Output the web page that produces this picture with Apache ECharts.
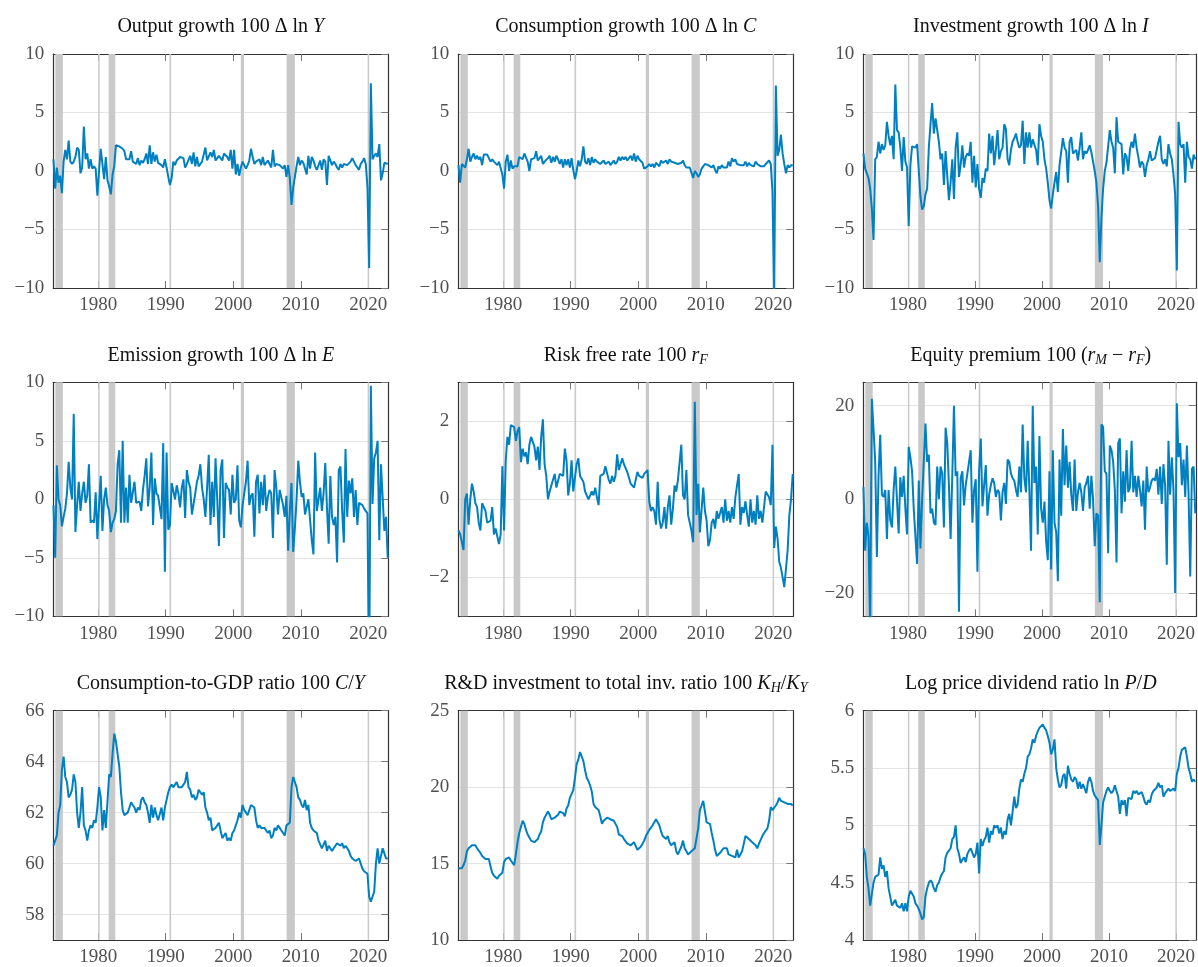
<!DOCTYPE html>
<html><head><meta charset="utf-8">
<script src="https://cdn.jsdelivr.net/npm/echarts@6/dist/echarts.min.js"></script>
<style>html,body{margin:0;padding:0;background:#fff}#c{width:1198px;height:967px}</style>
</head><body><div id="c"></div>
<script>
// ---- Data (quarterly, first observation = 1973Q3) ----
const startDate = 1973.375;   // position of first quarter on the time axis
const quarterStep = 0.25;
const yearTicks = [1980, 1990, 2000, 2010, 2020];
const recessions = [[1973.65,1974.76],[1980.0,1980.22],[1981.55,1982.53],[1990.56,1990.8],[2001.12,2001.6],[2007.9,2009.12],[2019.9,2020.12]];

const outputGrowth = [
1.0,-1.5,0.3,-1.0,-0.4,-1.9,0.8,1.8,1.0,2.6,
0.8,0.6,0.8,1.2,2.0,1.8,-0.2,0.3,3.8,1.0,
1.5,0.2,1.0,0.2,0.4,0.2,-2.1,0.0,1.9,2.0,
-0.7,1.2,-0.8,-1.3,-2.0,-0.3,0.4,2.2,2.1,2.1,
2.0,1.9,1.7,1.0,0.9,1.0,1.7,0.8,0.9,0.6,
1.1,0.5,0.9,0.7,1.0,1.5,0.6,2.2,0.6,1.6,
0.8,1.4,0.7,0.8,0.5,0.3,1.0,0.3,-0.5,-1.2,
-0.6,0.8,0.5,0.9,0.8,1.2,1.1,1.1,0.3,0.6,
0.5,1.3,0.6,1.6,0.4,1.2,0.4,0.3,0.8,0.7,
2.0,0.9,1.0,1.6,1.2,1.8,0.9,1.1,1.3,1.4,
0.9,1.5,1.6,1.2,0.9,1.8,0.2,1.8,-0.3,0.6,
-0.4,0.3,0.8,0.5,0.2,0.5,0.9,1.9,1.2,0.6,
0.8,0.8,1.0,0.5,1.2,0.5,0.4,0.9,1.0,0.3,
1.8,0.4,0.6,0.5,0.5,0.6,0.2,0.5,-0.5,0.5,
-0.6,-2.9,-1.4,-0.5,0.4,1.2,0.5,0.9,0.7,0.6,
-0.3,1.3,0.2,1.2,0.9,0.4,0.1,0.2,0.9,0.1,
1.0,0.8,-1.2,1.3,1.2,0.5,0.8,0.6,0.3,0.1,
0.6,0.3,0.6,0.5,0.5,0.6,0.8,1.1,0.8,0.5,
0.6,0.1,0.6,0.8,1.1,0.6,-1.4,-8.3,7.5,1.0,
1.3,1.5,1.2,2.3,-0.8,-0.2,0.7,0.6,0.6];

const consumptionGrowth = [
0.5,-1.0,0.6,0.5,0.3,1.0,1.9,0.8,1.2,1.5,
1.0,1.3,1.0,1.2,0.5,1.4,1.4,1.4,1.3,0.8,
1.0,0.8,0.9,0.5,0.8,0.9,-0.3,-1.5,0.8,1.4,
0.0,0.9,0.2,0.4,0.5,0.4,1.2,1.3,1.0,1.5,
1.4,0.8,0.0,1.0,0.9,1.1,1.7,0.9,1.0,1.3,
0.6,0.8,0.7,1.1,1.3,0.7,1.2,0.8,1.3,1.0,
0.6,1.0,0.3,1.0,0.5,1.0,0.3,1.1,0.1,-0.7,
0.0,0.9,0.4,1.0,2.1,0.8,0.6,1.1,0.5,1.2,
0.7,1.0,0.8,0.7,0.6,0.7,0.9,0.6,0.7,0.8,
0.5,0.7,0.9,0.6,0.8,1.2,0.9,1.2,1.0,1.2,
0.9,1.0,1.3,0.9,1.5,0.8,1.3,1.0,0.9,0.7,
0.2,0.2,0.4,0.6,0.4,0.6,0.3,0.7,0.6,0.4,
0.9,0.7,0.6,0.9,0.6,1.0,0.8,0.7,0.7,0.7,
0.6,0.5,0.7,0.9,0.5,0.3,0.4,0.3,0.3,-0.6,
0.0,-0.2,-0.5,-0.3,0.2,0.4,0.6,0.7,0.5,0.4,
0.3,0.5,0.1,-0.2,0.4,0.2,0.5,0.3,0.4,0.3,
0.8,0.4,1.1,0.8,1.0,0.6,0.7,0.5,0.6,0.5,
0.8,0.4,0.7,0.5,0.6,0.4,0.8,0.6,0.6,0.4,
0.5,0.4,0.6,0.7,0.9,0.6,-1.8,-10.8,7.3,1.3,
1.8,3.1,1.5,0.6,-0.2,0.5,0.3,0.5,0.5];

const investmentGrowth = [
1.5,0.2,
-0.2,-0.6,-1.5,-3.2,  -5.9,1.0,1.2,2.5,  1.5,2.3,1.8,2.2,  4.2,3.0,2.2,3.0,  1.0,7.4,3.5,3.3,
2.0,0.0,2.9,0.8,  0.3,-4.7,0.5,2.1,  2.0,2.0,2.3,2.3,  -2.2,-3.3,-3.0,-2.0,  -1.5,2.0,4.0,5.8,
3.2,4.5,4.5,2.5,  1.0,1.5,-1.2,1.7,  1.8,-2.5,-1.0,1.0,  -2.4,2.0,3.3,-0.5,  0.5,2.2,0.3,1.2,
1.5,1.3,2.5,-1.0,  1.3,-1.4,0.6,-1.5,  -2.3,-0.6,-1.0,0.2,  0.0,3.2,1.5,3.0,  0.5,1.8,3.5,1.0,
1.7,2.0,4.0,3.6,  1.0,0.5,1.8,2.5,  2.8,3.2,2.5,2.0,  2.2,4.3,0.6,3.3,  2.0,3.3,2.0,2.7,
2.8,1.8,0.5,4.0,  3.0,2.5,1.0,0.2,  -1.0,-2.5,-3.2,-2.0,  -1.0,-0.1,-1.8,0.5,  0.5,2.8,2.0,1.7,
-1.0,2.5,2.9,1.5,  1.5,1.8,0.9,2.0,  3.3,1.0,1.7,1.5,  1.8,2.2,1.6,1.5,  0.0,-1.0,-3.0,-7.8,
-4.0,-1.5,0.0,0.7,  0.7,3.5,2.5,2.0,  -0.2,4.6,2.5,2.5,  2.3,-0.3,1.5,1.2,  0.0,1.8,2.5,2.0,
3.2,2.0,1.2,0.3,  0.8,0.6,-0.5,0.5,  1.0,1.7,0.9,1.0,  1.1,1.0,2.5,3.0,  1.0,0.6,1.0,0.4,
2.3,1.5,1.0,-0.3,  -2.0,-8.5,4.2,2.3,  2.0,2.3,-1.0,2.5,  1.2,1.0,0.2,1.4,
1.0];

const emissionGrowth = [
-0.5,-5.0,2.9,0.0,-0.5,-2.3,-1.5,-0.8,0.5,3.2,
1.0,0.0,7.3,-2.8,-0.5,1.5,-1.0,0.5,1.5,-0.3,
0.3,3.0,-2.0,-1.8,-2.0,0.6,-3.4,-0.5,2.0,-2.7,
0.0,1.0,-0.5,-1.0,-2.8,-2.0,-1.7,-1.0,3.0,4.2,
-2.0,5.0,-2.0,1.0,-2.0,2.1,-0.3,-0.3,1.5,-0.3,
-0.4,-0.2,-1.0,0.8,2.0,3.5,-0.6,1.0,4.0,-2.2,
1.8,0.5,0.3,0.2,-1.7,4.8,-6.2,4.0,-2.6,-2.2,
1.4,1.5,0.0,1.2,0.5,-0.7,1.0,1.7,-1.6,2.5,
1.5,1.0,-1.3,-1.4,0.5,1.5,2.0,3.0,1.0,0.0,
-1.5,1.0,3.8,-2.2,1.5,-1.5,3.5,0.0,-4.0,2.5,
3.4,-3.3,1.4,1.0,0.8,-1.3,2.1,-0.3,0.0,2.9,
-1.8,-2.4,-0.5,0.5,1.5,3.3,-0.5,0.3,0.5,-3.2,
1.5,2.1,-1.2,1.5,-0.5,2.1,-1.0,0.2,0.8,0.5,
-3.3,2.5,1.0,-1.3,0.8,0.9,-0.5,-1.5,0.3,-4.4,
-1.0,1.4,-4.5,-2.5,0.0,3.3,1.5,0.2,0.5,-1.3,
-1.2,0.0,0.0,-3.5,-4.7,4.0,-1.0,0.0,1.0,-1.0,
0.5,3.1,-0.7,-3.8,2.0,-1.5,-2.2,-1.5,-5.4,2.5,
2.8,-1.0,-3.7,4.3,-1.5,1.6,0.5,1.8,-1.5,0.8,
-2.2,-0.3,-0.3,-0.5,-0.8,-0.8,-1.2,-16.0,9.7,-0.4,
3.5,4.0,5.0,-3.5,3.0,2.9,-2.7,-1.5,-5.0];

const riskFreeRate = [
-0.8,-0.9,-0.85,-1.3,0.0,0.15,-0.65,0.0,0.4,0.2,
-0.1,-0.2,-0.6,-0.8,-0.1,-0.05,-0.3,-0.6,-0.6,-0.55,
-0.2,-0.9,-0.75,-0.8,-1.15,-0.9,0.85,-0.8,1.0,1.6,
1.4,1.9,1.95,1.85,1.5,1.75,1.85,0.95,1.3,1.1,
1.2,0.9,1.4,1.6,1.65,1.35,1.0,1.35,0.75,1.6,
2.05,0.9,0.6,0.0,0.2,0.35,0.5,0.65,0.3,0.25,
0.65,0.7,0.6,1.3,1.0,0.1,0.4,1.0,0.2,0.25,
0.9,1.05,0.6,0.6,0.45,0.2,0.1,0.0,-0.05,0.2,
0.1,0.3,0.05,-0.15,0.6,0.6,0.65,0.85,0.8,0.5,
0.4,0.6,0.45,0.6,1.15,0.75,0.9,1.05,0.9,0.8,
0.7,0.7,0.4,0.4,0.3,0.3,0.7,0.6,0.65,0.55,
0.65,0.7,0.75,-0.05,-0.3,-0.2,-0.3,-0.65,0.45,-0.5,
-0.75,-0.6,-0.2,-0.75,-0.2,0.1,-0.65,-0.25,0.35,0.2,
0.5,0.45,1.4,0.1,0.0,0.75,-0.4,-0.35,-0.8,-1.1,
2.5,-0.4,0.4,-0.85,-0.85,0.3,-0.3,-0.55,-1.2,-1.05,
-0.6,-0.5,-0.75,-0.3,-0.5,-0.45,-0.2,-0.6,0.0,-0.55,
-0.3,-0.6,-0.2,-0.5,0.05,0.0,0.65,-0.65,-0.2,-0.35,
-0.05,-0.4,-0.7,0.0,-0.6,-0.3,-0.65,0.1,-0.5,-0.3,
-0.6,-0.2,0.2,0.2,0.05,-0.15,1.4,-1.25,-0.7,-1.0,
-1.6,-1.75,-2.0,-2.25,-2.2,-1.3,-0.4,0.0,0.65];

const equityPremium = [
2.6,-11,-5,-8,-28,21.5,15,8,-12.3,5,
13.8,1.0,0.5,2.0,-8.5,2.0,-4.5,-6,2.0,7.0,
7.0,-7.3,4.7,0.5,5.0,-2.0,-7.5,11.2,9.0,6.0,
-2.0,-8.0,-13.8,4.0,-10.5,0.0,8.0,16.2,8.0,9.5,
-3.0,-2.0,-5.0,-5.5,7.0,0.0,7.0,5.5,-6.0,15.3,
12.0,3.0,-8.5,5.0,20.0,5.0,6.0,-24.0,4.5,6.0,
-1.3,3.0,5.5,8.0,10.5,-5.0,2.0,4.3,-15.5,6.0,
13.0,-1.5,3.0,7.3,-3.5,1.0,3.0,4.5,3.5,0.5,
2.0,1.5,-4.5,1.5,3.5,-1.0,8.5,8.0,5.5,4.5,
4.0,2.0,0.5,7.0,1.5,16.0,4.5,1.5,12.5,2.0,
-11.0,20.0,3.5,7.0,-7.5,13.5,-2.0,-5.0,-0.5,-9.0,
-13.0,6.0,-15.0,10.5,-5.0,-7.0,-17.5,8.5,-3.5,15.0,
3.0,11.5,2.5,8.0,1.0,-2.5,8.5,-2.5,1.5,3.5,
1.5,-2.5,2.5,3.5,5.0,-2.0,5.0,0.0,-10.0,-3.0,
-3.5,-22.0,16.0,15.5,6.0,5.5,-11.5,11.5,10.5,8.0,
2.0,-13.5,12.0,13.0,-3.0,6.0,-0.5,10.5,1.5,2.5,
12.5,1.5,5.0,0.5,5.0,2.0,-1.5,4.0,-6.5,7.0,
1.5,2.5,4.0,4.5,4.0,6.5,1.0,7.0,-1.0,7.5,
3.0,-14.0,12.5,1.0,9.0,2.0,-20.0,20.5,9.0,12.0,
3.0,8.5,0.5,11.5,1.0,-16.5,6.5,7.0,-3.0];

const consumptionToGdp = [
60.7,60.9,61.1,62.0,62.3,63.7,64.2,63.4,63.2,62.6,
62.7,62.9,63.5,63.2,62.0,61.4,62.0,63.0,61.5,61.3,
60.9,61.3,61.5,61.4,61.7,61.6,62.2,63.0,62.6,61.3,
62.1,61.4,61.4,63.5,63.4,64.3,65.1,64.8,64.3,63.8,
62.8,62.1,61.9,61.9,62.0,62.2,62.4,62.3,62.2,62.0,
62.2,62.1,62.5,62.6,62.4,62.3,62.0,61.6,62.3,61.8,
62.2,61.9,61.7,61.7,62.2,61.7,62.2,62.5,62.8,63.0,
63.1,63.0,63.1,63.2,63.0,63.0,63.0,63.1,63.2,63.6,
63.0,62.9,62.6,62.7,62.5,62.6,62.9,62.8,62.7,62.8,
62.2,62.0,61.7,61.8,61.3,61.3,61.4,61.4,61.6,61.3,
61.0,61.1,61.2,60.9,61.0,60.9,61.2,61.3,61.5,61.7,
62.0,61.8,62.3,62.1,62.0,61.9,61.9,62.3,62.3,62.2,
61.7,61.4,61.5,61.4,61.4,61.4,61.3,61.2,61.3,61.0,
61.1,61.4,61.3,61.5,61.4,61.3,61.2,61.1,61.5,61.5,
61.6,63.0,63.4,63.2,63.0,62.6,62.5,62.3,62.2,62.5,
62.1,62.3,61.6,61.4,61.3,61.3,61.2,60.9,60.9,60.6,
60.6,60.9,60.5,60.7,60.6,60.5,60.6,60.7,60.8,60.8,
60.7,60.8,60.6,60.7,60.6,60.5,60.3,60.2,60.2,60.1,
60.1,60.2,60.0,59.8,59.7,59.7,59.6,58.7,58.5,58.7,
58.9,60.0,60.6,60.0,60.0,60.6,60.4,60.2,60.2];

const rdInvestmentRatio = [
14.7,14.65,14.7,14.9,15.2,15.8,16.0,16.1,16.2,16.3,
16.2,16.0,15.9,15.7,15.5,15.4,15.3,15.2,15.3,14.8,
14.4,14.2,14.1,14.0,14.2,14.1,14.4,15.1,15.3,15.4,
15.4,15.2,15.2,14.9,15.6,16.4,17.0,17.4,17.8,17.6,
17.2,16.9,16.7,16.5,16.4,16.4,16.5,16.6,16.9,17.1,
17.7,18.0,18.0,18.4,18.2,17.9,18.0,18.0,18.0,18.2,
18.4,18.4,18.3,18.1,18.6,18.8,19.3,19.4,19.8,20.6,
21.5,21.8,22.3,22.3,21.7,21.1,20.6,20.4,20.1,19.7,
18.9,18.7,18.6,18.5,18.1,17.6,17.8,17.9,18.0,18.0,
17.9,17.8,17.8,17.7,17.4,16.9,16.8,16.8,16.6,16.7,
16.3,16.2,16.2,16.3,16.4,16.3,15.9,16.0,16.1,16.2,
16.5,16.8,17.0,17.2,17.3,17.5,17.5,17.9,18.0,17.5,
17.1,16.8,16.9,16.6,16.8,16.4,16.2,16.3,16.4,15.8,
15.6,15.7,16.1,16.5,16.0,15.8,15.6,15.6,15.8,15.9,
16.0,16.1,17.3,18.5,18.8,19.1,18.4,17.7,17.6,17.6,
17.0,16.5,15.9,15.5,15.6,15.7,15.8,16.0,16.1,16.0,
15.6,15.5,15.5,15.5,15.4,15.9,15.4,15.5,15.8,16.3,
16.8,16.7,16.6,16.7,16.4,16.4,16.2,16.0,16.3,16.4,
16.8,17.0,17.1,17.3,17.8,18.7,18.5,18.6,18.8,19.0,
19.3,19.1,19.1,19.0,19.0,18.9,19.0,18.9,18.8];

const logPriceDividend = [
4.8,4.75,4.55,4.45,4.3,4.3,4.5,4.55,4.56,4.57,
4.72,4.62,4.65,4.55,4.6,4.45,4.45,4.3,4.3,4.35,
4.3,4.3,4.28,4.32,4.25,4.32,4.25,4.38,4.43,4.42,
4.38,4.32,4.3,4.27,4.23,4.18,4.2,4.38,4.45,4.5,
4.52,4.5,4.45,4.42,4.48,4.5,4.55,4.58,4.6,4.72,
4.76,4.78,4.8,4.88,4.9,5.0,4.8,4.75,4.67,4.7,
4.72,4.68,4.75,4.78,4.8,4.8,4.72,4.75,4.85,4.58,
4.88,4.82,4.87,4.9,4.98,4.85,4.95,4.92,5.0,4.98,
5.0,4.93,4.98,4.88,4.95,4.92,5.05,5.1,5.0,5.12,
5.25,5.15,5.18,5.32,5.4,5.38,5.45,5.5,5.6,5.62,
5.67,5.75,5.72,5.78,5.82,5.85,5.86,5.88,5.85,5.83,
5.78,5.72,5.62,5.66,5.75,5.5,5.4,5.33,5.35,5.43,
5.45,5.32,5.52,5.45,5.4,5.38,5.42,5.4,5.32,5.38,
5.32,5.36,5.37,5.28,5.38,5.42,5.38,5.3,5.26,5.25,
5.22,4.83,5.0,5.2,5.25,5.3,5.33,5.3,5.28,5.3,
5.35,5.3,5.25,5.1,5.22,5.18,5.22,5.08,5.24,5.25,
5.23,5.3,5.28,5.3,5.27,5.28,5.29,5.25,5.2,5.18,
5.22,5.2,5.27,5.3,5.3,5.33,5.37,5.33,5.35,5.25,
5.28,5.3,5.32,5.3,5.31,5.32,5.3,5.45,5.5,5.6,
5.66,5.66,5.68,5.6,5.5,5.45,5.38,5.4,5.38];

const panels = [
  {title:'Output growth 100 Δ ln {i|Y}', data: outputGrowth, min:-10, max:10, ticks:[-10,-5,0,5,10]},
  {title:'Consumption growth 100 Δ ln {i|C}', data: consumptionGrowth, min:-10, max:10, ticks:[-10,-5,0,5,10]},
  {title:'Investment growth 100 Δ ln {i|I}', data: investmentGrowth, min:-10, max:10, ticks:[-10,-5,0,5,10]},
  {title:'Emission growth 100 Δ ln {i|E}', data: emissionGrowth, min:-10, max:10, ticks:[-10,-5,0,5,10]},
  {title:'Risk free rate 100 {i|r}{sub|F}', data: riskFreeRate, min:-3, max:3, ticks:[-2,0,2]},
  {title:'Equity premium 100 ({i|r}{sub|M} − {i|r}{sub|F})', data: equityPremium, min:-25, max:25, ticks:[-20,0,20]},
  {title:'Consumption-to-GDP ratio 100 {i|C}/{i|Y}', data: consumptionToGdp, min:57, max:66, ticks:[58,60,62,64,66]},
  {title:'R&D investment to total inv. ratio 100 {i|K}{sub|H}/{i|K}{sub|Y}', data: rdInvestmentRatio, min:10, max:25, ticks:[10,15,20,25]},
  {title:'Log price dividend ratio ln {i|P}/{i|D}', data: logPriceDividend, min:4, max:6, ticks:[4,4.5,5,5.5,6]}
];

// ---- Layout / style ----
const FONT = 'Liberation Serif';
const LINE = '#0080c0';
const colLeft = [53.3, 458.3, 863.3], rowTop = [54, 382.3, 710.7];
const gw = 335, gh = 234;
const xMin = 1973.35, xMax = 2022.96;
const fmt = v => (v < 0 ? '\u2212' + Math.abs(v) : String(v));

const grid = [], xAxis = [], yAxis = [], series = [], graphic = [];
const frame = {show:true, onZero:false, lineStyle:{color:'#333', width:1.2}};
panels.forEach((p, k) => {
  const r = Math.floor(k / 3), c = k % 3;
  grid.push({left: colLeft[c], top: rowTop[r], width: gw, height: gh});
  xAxis.push({gridIndex:k, type:'value', min:xMin, max:xMax, position:'bottom', axisLine:frame,
    axisTick:{show:true, inside:true, length:7, customValues:yearTicks, lineStyle:{color:'#777', width:1}},
    axisLabel:{customValues:yearTicks, margin:8, color:'#505050', fontFamily:FONT, fontSize:19, formatter:v=>String(v)},
    splitLine:{show:false}});
  xAxis.push({gridIndex:k, type:'value', min:xMin, max:xMax, position:'top', axisLine:frame,
    axisTick:{show:true, inside:true, length:7, customValues:yearTicks, lineStyle:{color:'#777', width:1}},
    axisLabel:{show:false}, splitLine:{show:false}});
  yAxis.push({gridIndex:k, type:'value', min:p.min, max:p.max, position:'left', axisLine:frame,
    axisTick:{show:false, customValues:p.ticks},
    axisLabel:{customValues:p.ticks, margin:9, color:'#505050', fontFamily:FONT, fontSize:19, formatter:fmt},
    splitLine:{show:true, lineStyle:{color:'#e4e4e4', width:1}}});
  yAxis.push({gridIndex:k, type:'value', min:p.min, max:p.max, position:'right', axisLine:frame,
    axisTick:{show:true, inside:true, length:7, customValues:p.ticks, lineStyle:{color:'#777', width:1}},
    axisLabel:{show:false}, splitLine:{show:false}});
  series.push({type:'line', xAxisIndex:2*k, yAxisIndex:2*k, showSymbol:false, symbol:'none',
    data: p.data.map((v, i) => [startDate + i * quarterStep, v]),
    lineStyle:{color:LINE, width:2}, itemStyle:{color:LINE}, clip:true, z:3,
    markArea:{silent:true, itemStyle:{color:'#c9c9c9', opacity:1},
      data: recessions.map(b => [{xAxis:b[0]}, {xAxis:b[1]}])}});
  graphic.push({type:'text', x: colLeft[c] + gw / 2, y: rowTop[r] - 27, style:{
    text: p.title, fill:'#111', font: '20px "' + FONT + '"', align:'center', verticalAlign:'middle',
    rich:{i:{fontStyle:'italic', fontFamily:FONT, fontSize:20, fill:'#111'},
          sub:{fontStyle:'italic', fontFamily:FONT, fontSize:14, fill:'#111', padding:[10,0,0,0]}}}});
});

const chart = echarts.init(document.getElementById('c'), null, {renderer:'canvas'});
chart.setOption({animation:false, backgroundColor:'#fff', grid, xAxis, yAxis, series, graphic});
</script></body></html>
